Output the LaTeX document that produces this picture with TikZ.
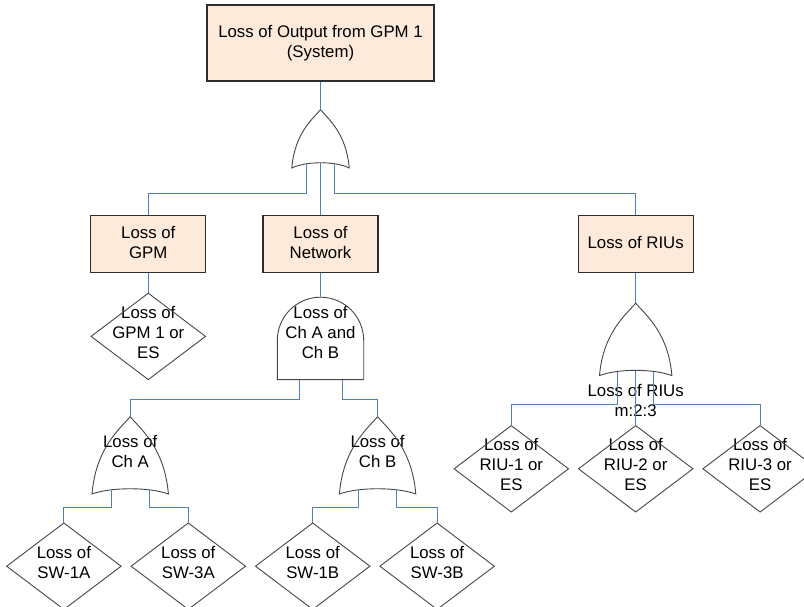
\documentclass[tikz,border=0pt]{standalone}
\usepackage{fontspec}
\setmainfont{Liberation Sans}
\usetikzlibrary{positioning, calc}

\definecolor{boxfill}{RGB}{253,234,218}
\definecolor{boxline}{RGB}{45,45,45}
\definecolor{gateline}{RGB}{70,70,70}
\definecolor{linkblue}{RGB}{79,129,189}

% gate outlines drawn round a named node
\newcommand{\orshape}[1]{%
  \draw[gate] let \p1=($(#1.north east)-(#1.center)$) in
    (#1.south west) .. controls +(0.1*\x1,1.2*\y1) and +(-0.25*\x1,-0.3*\y1) .. (#1.north)
    .. controls +(0.25*\x1,-0.3*\y1) and +(-0.1*\x1,1.2*\y1) .. (#1.south east)
    .. controls +(-0.5*\x1,7pt) and +(0.5*\x1,7pt) .. (#1.south west) -- cycle;}
\newcommand{\andshape}[1]{%
  \draw[gate] let \p1=($(#1.north east)-(#1.center)$) in
    (#1.south west) -- (#1.south east) -- ++(0,2*\y1-\x1)
    arc[start angle=0, end angle=180, radius=\x1] -- cycle;}
\newcommand{\evshape}[1]{%
  \draw[gate] (#1.north) -- (#1.east) -- (#1.south) -- (#1.west) -- cycle;}

\begin{document}
\begin{tikzpicture}[
		font=\fontsize{16.8pt}{20pt}\selectfont,
		event/.style={draw=boxline, fill=boxfill, line width=1.2pt, align=center, text depth=4pt, minimum width=115pt, minimum height=57pt},
		basicev/.style={align=center, inner sep=0pt, text depth=8pt, minimum width=114pt, minimum height=86pt},
		orbox/.style={align=center, inner sep=0pt, text depth=8pt},
		gate/.style={draw=gateline, line width=0.9pt},
		link/.style={draw=linkblue, line width=0.9pt}
		]
		\useasboundingbox (0,0) rectangle (804pt,-607pt);
		
		% Top event and its gate
		\node[event, minimum width=227pt, minimum height=76pt] (top) at (320.5pt,-43pt) {Loss of Output from GPM 1\\(System)};
		\node[orbox, minimum width=57pt, minimum height=58pt, below=28pt of top] (org) {};
		
		% Intermediate events
		\node[event, below=47pt of org] (net) {Loss of\\Network};
		\node[event, left=56pt of net] (gpm) {Loss of\\GPM};
		\node[event, right=199pt of net] (riu) {Loss of RIUs};
		
		\node[basicev, below=20pt of gpm] (gpmev) {Loss of\\GPM 1 or\\ES};
		\node[orbox, text depth=12pt, minimum width=86pt, minimum height=82pt, below=24pt of net] (andg) {Loss of\\Ch A and\\Ch B};
		\node[orbox, minimum width=72pt, minimum height=72pt, below=30pt of riu,
			label={[label distance=5pt, align=center]below:{Loss of RIUs\\m:2:3}}] (riug) {};
		
		% Channel gates
		\node[orbox, minimum width=76pt, minimum height=77pt, below=37pt of andg, xshift=-190.3pt] (cha) {Loss of\\Ch A};
		\node[orbox, minimum width=76pt, minimum height=77pt, right=171pt of cha] (chb) {Loss of\\Ch B};
		
		% Basic events
		\node[basicev, below=29pt of cha, xshift=-66.3pt] (sw1a) {Loss of\\SW-1A};
		\node[basicev, right=10pt of sw1a] (sw3a) {Loss of\\SW-3A};
		\node[basicev, right=10pt of sw3a] (sw1b) {Loss of\\SW-1B};
		\node[basicev, right=10pt of sw1b] (sw3b) {Loss of\\SW-3B};
		\node[basicev, below=50pt of riug] (riu2) {Loss of\\RIU-2 or\\ES};
		\node[basicev, left=10pt of riu2] (riu1) {Loss of\\RIU-1 or\\ES};
		\node[basicev, right=10pt of riu2] (riu3) {Loss of\\RIU-3 or\\ES};
		
		% Shapes
		\orshape{org}
		\orshape{cha}
		\orshape{chb}
		\orshape{riug}
		\andshape{andg}
		\evshape{gpmev}
		\evshape{sw1a}
		\evshape{sw3a}
		\evshape{sw1b}
		\evshape{sw3b}
		\evshape{riu1}
		\evshape{riu2}
		\evshape{riu3}
		
		% Connectors
		\draw[link] (top) -- (org);
		\draw[link] ([xshift=-14.25pt, yshift=4pt]org.south) -- ++(0,-29pt) -| (gpm.north);
		\draw[link] ([yshift=5pt]org.south) -- (net.north);
		\draw[link] ([xshift=14.25pt, yshift=4pt]org.south) -- ++(0,-29pt) -| (riu.north);
		\draw[link] (gpm) -- (gpmev);
		\draw[link] (net) -- (andg);
		\draw[link] ([xshift=-21.5pt]andg.south) -- ++(0,-20pt) -| (cha.north);
		\draw[link] ([xshift=21.5pt]andg.south) -- ++(0,-20pt) -| (chb.north);
		\draw[link] ([xshift=-19pt, yshift=4pt]cha.south) -- ++(0,-17.5pt) -| (sw1a.north);
		\draw[link] ([xshift=19pt, yshift=4pt]cha.south) -- ++(0,-17.5pt) -| (sw3a.north);
		\draw[link] ([xshift=-19pt, yshift=4pt]chb.south) -- ++(0,-17.5pt) -| (sw1b.north);
		\draw[link] ([xshift=19pt, yshift=4pt]chb.south) -- ++(0,-17.5pt) -| (sw3b.north);
		\draw[link] (riu) -- (riug);
		\draw[link] ([xshift=-18pt, yshift=4pt]riug.south) -- ++(0,-33.3pt) -| (riu1.north);
		\draw[link] ([yshift=5pt]riug.south) -- (riu2.north);
		\draw[link] ([xshift=18pt, yshift=4pt]riug.south) -- ++(0,-33.3pt) -| (riu3.north);
		
	\end{tikzpicture}
\end{document}
